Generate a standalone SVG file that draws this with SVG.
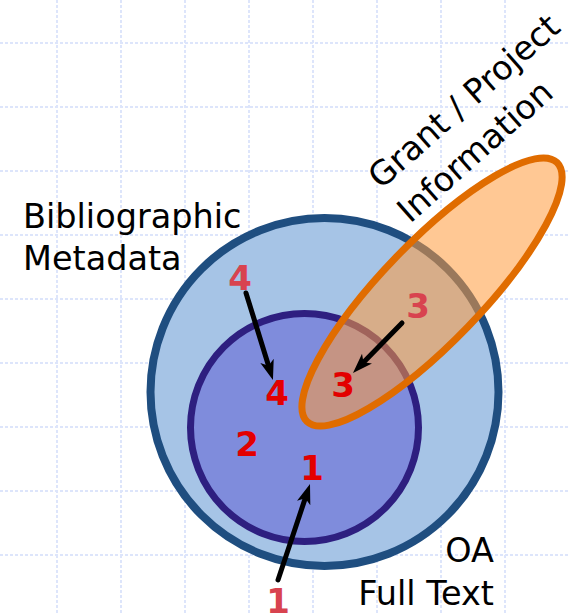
<svg xmlns="http://www.w3.org/2000/svg" width="569" height="613" viewBox="0 0 569 613">
<defs>
<style>
.grid line{stroke:#dde5fb;stroke-width:2;stroke-dasharray:3 2}
.lbl{font-family:"DejaVu Sans","Liberation Sans",sans-serif;font-size:33.5px;fill:#000}
.num{font-family:"DejaVu Sans","Liberation Sans",sans-serif;font-size:34px;font-weight:bold;text-anchor:middle}
.in{fill:#e30000}
.out{fill:#d8434f}
.arr{stroke:#000;stroke-width:5;fill:none;stroke-linecap:round;marker-end:url(#ah)}
</style>
<marker id="ah" markerUnits="userSpaceOnUse" markerWidth="22" markerHeight="16" refX="8" refY="7" orient="auto" viewBox="0 0 22 16">
<path d="M0,0 L20,7 L0,14 L5,7 z" fill="#000"/>
</marker>
</defs>
<rect width="569" height="613" fill="#fff"/>
<g class="grid">
<line x1="57" y1="0" x2="57" y2="613"/>
<line x1="121" y1="0" x2="121" y2="613"/>
<line x1="185" y1="0" x2="185" y2="613"/>
<line x1="249" y1="0" x2="249" y2="613"/>
<line x1="313" y1="0" x2="313" y2="613"/>
<line x1="377" y1="0" x2="377" y2="613"/>
<line x1="441" y1="0" x2="441" y2="613"/>
<line x1="505" y1="0" x2="505" y2="613"/>
<line x1="0" y1="43" x2="569" y2="43"/>
<line x1="0" y1="107" x2="569" y2="107"/>
<line x1="0" y1="171" x2="569" y2="171"/>
<line x1="0" y1="235" x2="569" y2="235"/>
<line x1="0" y1="299" x2="569" y2="299"/>
<line x1="0" y1="363" x2="569" y2="363"/>
<line x1="0" y1="427" x2="569" y2="427"/>
<line x1="0" y1="491" x2="569" y2="491"/>
<line x1="0" y1="555" x2="569" y2="555"/>
</g>
<ellipse cx="432" cy="292" rx="180" ry="50" transform="rotate(-46 432 292)" fill="#fff"/>
<g id="oa-full-text">
<circle cx="324.5" cy="392" r="174" fill="#a6c4e6" stroke="#1f4e80" stroke-width="8"/>
</g>
<g id="bibliographic-metadata">
<circle cx="304.5" cy="427.5" r="114" fill="#7f8cdc" stroke="#2e1f80" stroke-width="7"/>
</g>
<g id="grant-project">
<ellipse cx="432" cy="292" rx="180" ry="50" transform="rotate(-46 432 292)" fill="#ff9a3c" fill-opacity="0.55" stroke="#e06c00" stroke-width="7"/>
</g>
<g id="labels">
<text class="lbl" x="23" y="228">Bibliographic</text>
<text class="lbl" x="23" y="270">Metadata</text>
<text class="lbl" x="494" y="562" text-anchor="end">OA</text>
<text class="lbl" x="494" y="605" text-anchor="end">Full Text</text>
<text class="lbl" transform="translate(381 190) rotate(-41.5)">Grant / Project</text>
<text class="lbl" transform="translate(410 224) rotate(-41.5)">Information</text>
</g>
<g id="connectors">
<path class="arr" d="M246,293 L269.4,368.5"/>
<path class="arr" d="M402,323 L361.4,364.4"/>
<path class="arr" d="M278,580 L306.2,495.4"/>
</g>
<g id="numbers">
<text class="num out" x="240" y="290">4</text>
<text class="num in" x="277" y="405">4</text>
<text class="num out" x="418" y="318">3</text>
<text class="num in" x="343" y="397">3</text>
<text class="num in" x="247" y="456">2</text>
<text class="num in" x="312" y="480">1</text>
<text class="num out" x="278" y="613">1</text>
</g>
</svg>
